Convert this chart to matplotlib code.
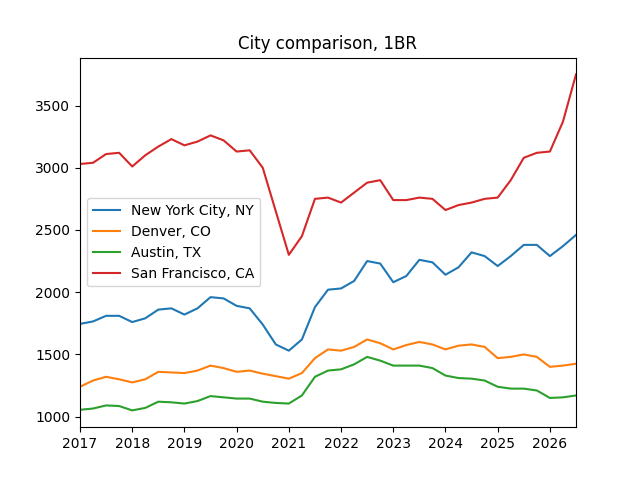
import numpy as np
import matplotlib
matplotlib.use("Agg")
import matplotlib.pyplot as plt

# quarterly samples, 2017.0 .. 2026.5
years = [2017 + 0.25 * i for i in range(39)]

nyc = [1745, 1765, 1810, 1810, 1760, 1790, 1860, 1870, 1820, 1870, 1960, 1950,
       1890, 1870, 1740, 1580, 1530, 1620, 1880, 2020, 2030, 2090, 2250, 2230,
       2080, 2130, 2260, 2240, 2140, 2200, 2320, 2290, 2210, 2290, 2380, 2380,
       2290, 2370, 2460]
denver = [1240, 1290, 1320, 1300, 1275, 1300, 1360, 1355, 1350, 1370, 1410, 1390,
          1360, 1370, 1345, 1325, 1305, 1350, 1470, 1540, 1530, 1560, 1620, 1590,
          1540, 1575, 1600, 1580, 1540, 1570, 1580, 1560, 1470, 1480, 1500, 1480,
          1400, 1410, 1425]
austin = [1055, 1065, 1090, 1085, 1050, 1070, 1120, 1115, 1105, 1125, 1165, 1155,
          1145, 1145, 1120, 1110, 1105, 1170, 1320, 1370, 1380, 1420, 1480, 1450,
          1410, 1410, 1410, 1390, 1330, 1310, 1305, 1290, 1240, 1225, 1225, 1210,
          1150, 1155, 1170]
sf = [3030, 3040, 3110, 3120, 3010, 3100, 3170, 3230, 3180, 3210, 3260, 3220,
      3130, 3140, 3000, 2650, 2300, 2450, 2750, 2760, 2720, 2800, 2880, 2900,
      2740, 2740, 2760, 2750, 2660, 2700, 2720, 2750, 2760, 2900, 3080, 3120,
      3130, 3370, 3750]

fig, ax = plt.subplots(figsize=(6.4, 4.8), dpi=100)
ax.plot(years, nyc, label="New York City, NY")
ax.plot(years, denver, label="Denver, CO")
ax.plot(years, austin, label="Austin, TX")
ax.plot(years, sf, label="San Francisco, CA")
ax.set_xlim(2017, 2026.5)
ax.set_xticks(range(2017, 2027))
ax.set_title("City comparison, 1BR")
ax.legend(loc="center left")
fig.savefig("out.png")
